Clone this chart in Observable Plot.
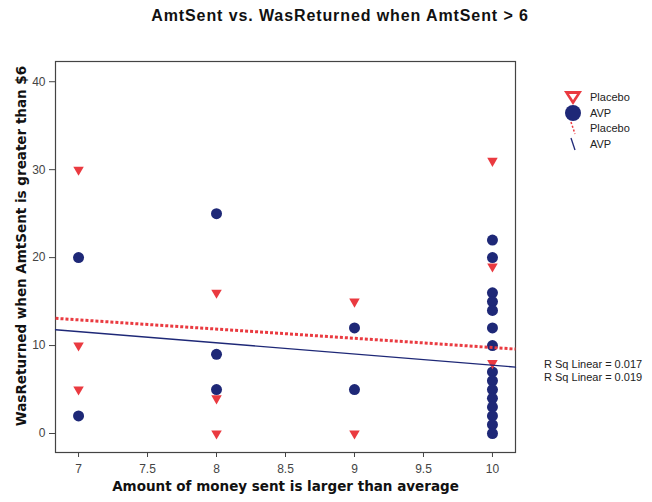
<!DOCTYPE html>
<html>
<head>
<meta charset="utf-8">
<script src="https://cdn.jsdelivr.net/npm/d3@7"></script>
<script src="https://cdn.jsdelivr.net/npm/@observablehq/plot@0.6"></script>
<style>
  body { margin: 0; background: #fff; font-family: "Liberation Sans", Arial, sans-serif; }
  #wrap { position: relative; width: 652px; height: 502px; background: #fff; }
  #wrap > svg { position: absolute; left: 0; top: 0; }
  .title { position: absolute; top: 7px; left: 340px; transform: translateX(-50%); white-space: nowrap;
           font-size: 16px; font-weight: bold; letter-spacing: 0.9px; color: #111; }
  .legend { position: absolute; left: 563px; top: 89px; font-size: 11px; color: #222; }
  .legend .row { height: 15.7px; display: flex; align-items: center; }
  .legend svg { width: 20px; height: 16px; margin-right: 7px; overflow: visible; }
  .rsq { position: absolute; left: 544px; top: 358px; font-size: 11px; line-height: 13px; color: #222; }
</style>
</head>
<body>
<div id="wrap"></div>
<script>
// Axis ticks
const ticksX = [7, 7.5, 8, 8.5, 9, 9.5, 10];
const ticksY = [0, 10, 20, 30, 40];

// Placebo group: amount sent vs. amount returned
const placeboX = [7, 7, 7, 8, 8, 8, 9, 9, 10, 10, 10];
const placeboY = [30, 10, 5, 16, 4, 0, 15, 0, 31, 19, 8];

// AVP group
const avpX = [7, 7, 8, 8, 8, 9, 9, 10, 10, 10, 10, 10, 10, 10, 10, 10, 10, 10, 10, 10, 10, 10];
const avpY = [20, 2, 25, 9, 5, 12, 5, 22, 20, 16, 15, 14, 12, 10, 7, 6, 5, 4, 3, 2, 1, 0];

// Linear fit lines, evaluated at the edges of the x range
const fitX = [6.833, 10.167];
const placeboFitY = [13.1, 9.6];
const avpFitY = [11.8, 7.55];

const rSqLabels = ["R Sq Linear = 0.017", "R Sq Linear = 0.019"];
const legendLabels = ["Placebo", "AVP", "Placebo", "AVP"];

const RED = "#ea3a40";
const NAVY = "#1e2877";
const LABEL_FONT = "'DejaVu Sans', Verdana, sans-serif";

const placebo = placeboX.map((x, i) => ({x, y: placeboY[i]}));
const avp = avpX.map((x, i) => ({x, y: avpY[i]}));
const placeboFit = fitX.map((x, i) => ({x, y: placeboFitY[i]}));
const avpFit = fitX.map((x, i) => ({x, y: avpFitY[i]}));

const chart = Plot.plot({
  width: 652,
  height: 502,
  marginLeft: 55,
  marginRight: 137,
  marginTop: 61,
  marginBottom: 50,
  style: {fontFamily: "'Liberation Sans', Arial, sans-serif", fontSize: "12px", background: "transparent", color: "#444"},
  x: {domain: [6.833, 10.167]},
  y: {domain: [-2.16, 42.3]},
  marks: [
    Plot.frame({stroke: "#444", strokeWidth: 1.2}),
    Plot.axisX({ticks: ticksX, tickSize: 5, tickPadding: 7, tickFormat: d => String(d), label: null, stroke: "#444"}),
    Plot.axisY({ticks: ticksY, tickSize: 6, tickPadding: 4, tickFormat: d => String(d), label: null, stroke: "#444"}),
    Plot.text(["Amount of money sent is larger than average"], {frameAnchor: "bottom", dy: 38, textAnchor: "middle", fontFamily: LABEL_FONT, fontSize: 13.5, fontWeight: "bold", fill: "#111"}),
    Plot.text(["WasReturned when AmtSent is greater than $6"], {frameAnchor: "left", dx: -34, dy: -11, textAnchor: "middle", rotate: -90, fontFamily: LABEL_FONT, fontSize: 13.5, fontWeight: "bold", fill: "#111"}),
    Plot.dot(avp, {x: "x", y: "y", r: 5.5, fill: NAVY, stroke: "none", symbol: "circle"}),
    Plot.dot(placebo, {x: "x", y: "y", r: 3.9, fill: RED, stroke: "none", symbol: "triangle", rotate: 180}),
    Plot.line(avpFit, {x: "x", y: "y", stroke: NAVY, strokeWidth: 1.3}),
    Plot.line(placeboFit, {x: "x", y: "y", stroke: RED, strokeWidth: 3, strokeDasharray: "3,2", strokeLinecap: "butt"})
  ]
});

const wrap = document.getElementById("wrap");
wrap.appendChild(chart);

const title = document.createElement("div");
title.className = "title";
title.textContent = "AmtSent vs. WasReturned when AmtSent > 6";
wrap.appendChild(title);

// Legend: marker symbols and fit-line swatches
const legend = document.createElement("div");
legend.className = "legend";
const swatches = [
  `<polygon points="1,2 19,2 10,16" fill="${RED}"/><polygon points="6,5 14,5 10,11" fill="#fff"/>`,
  `<circle cx="10" cy="8" r="8" fill="${NAVY}"/>`,
  `<line x1="8" y1="2" x2="12" y2="14" stroke="${RED}" stroke-width="1.5" stroke-dasharray="2,2"/>`,
  `<line x1="8" y1="2" x2="12" y2="14" stroke="${NAVY}" stroke-width="1.3"/>`
];
legendLabels.forEach((label, i) => {
  const row = document.createElement("div");
  row.className = "row";
  row.innerHTML = `<svg viewBox="0 0 20 16">${swatches[i]}</svg><span>${label}</span>`;
  legend.appendChild(row);
});
wrap.appendChild(legend);

const rsq = document.createElement("div");
rsq.className = "rsq";
rsq.innerHTML = rSqLabels.map(t => `<div>${t}</div>`).join("");
wrap.appendChild(rsq);
</script>
</body>
</html>
